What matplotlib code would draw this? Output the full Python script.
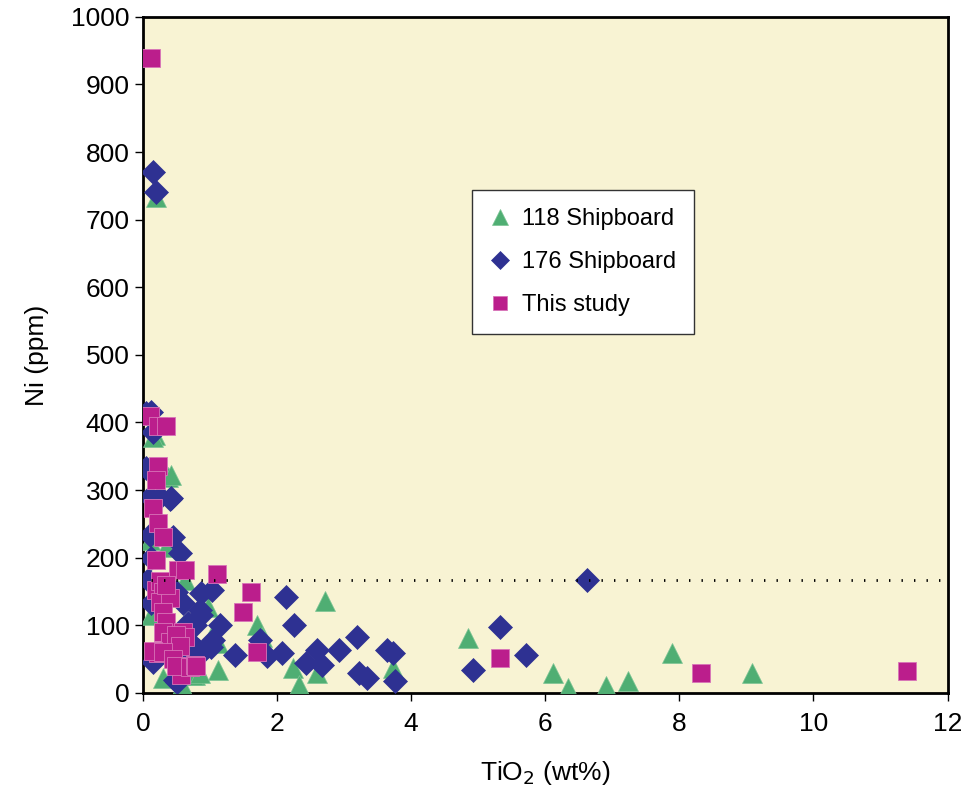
import numpy as np
import matplotlib
matplotlib.use('Agg')
import matplotlib.pyplot as plt

plt.rcParams['font.family'] = ['Liberation Sans', 'DejaVu Sans']

# 118 Shipboard (triangles)
tri_x = [0.19, 0.18, 0.15, 0.37, 0.42, 0.10, 0.34, 0.63, 0.52, 0.12, 0.97, 1.01,
         1.12, 1.12, 0.58, 0.78, 0.30, 0.75, 0.85, 1.70, 1.77, 2.71, 2.24, 2.33,
         2.59, 3.73, 4.85, 6.11, 6.34, 6.90, 7.24, 7.89, 9.08]
tri_y = [734, 382, 379, 320, 322, 226, 216, 167, 152, 115, 127, 83,
         74, 34, 12, 27, 22, 27, 30, 100, 83, 136, 37, 12,
         30, 37, 81, 30, 7, 10, 18, 59, 30]

# 176 Shipboard (diamonds)
dia_x = [0.15, 0.19, 0.12, 0.05, 0.15, 0.05, 0.10, 0.25, 0.42, 0.40, 0.45, 0.10,
         0.55, 0.12, 0.07, 0.49, 0.12, 0.60, 0.87, 0.67, 1.03, 1.01, 0.85, 1.15,
         0.78, 0.87, 1.04, 0.75, 0.82, 0.88, 0.64, 1.37, 0.15, 0.48, 0.51, 1.74,
         1.85, 2.14, 2.26, 2.07, 2.44, 2.59, 2.67, 2.92, 3.19, 3.23, 3.34, 3.64,
         3.73, 3.76, 4.92, 5.33, 5.71, 6.63]
dia_y = [771, 741, 416, 414, 386, 333, 290, 290, 288, 287, 231, 234,
         207, 200, 167, 150, 133, 133, 148, 103, 152, 68, 123, 100,
         100, 115, 78, 71, 63, 61, 61, 56, 46, 19, 16, 78,
         55, 142, 100, 59, 44, 63, 41, 63, 83, 30, 22, 63,
         59, 18, 34, 97, 56, 167]

# This study (squares)
sq_x = [0.12, 0.11, 0.22, 0.35, 0.22, 0.19, 0.15, 0.22, 0.30, 0.19, 0.52, 0.63,
        1.10, 0.19, 0.25, 0.30, 0.25, 0.40, 0.35, 0.30, 0.35, 0.30, 0.40, 0.60,
        0.63, 0.50, 0.55, 0.22, 0.15, 0.30, 0.45, 0.57, 0.50, 0.70, 0.78, 0.80,
        1.62, 1.49, 1.70, 5.33, 8.33, 11.40]
sq_y = [939, 410, 395, 395, 335, 315, 273, 251, 231, 196, 182, 182,
        176, 152, 165, 150, 135, 140, 160, 120, 105, 90, 75, 90,
        83, 85, 70, 59, 62, 60, 50, 27, 40, 38, 41, 40,
        149, 120, 61, 52, 30, 33]

threshold = 167

fig = plt.figure(figsize=(9.65, 8.02), dpi=100)
ax = fig.add_axes([0.148, 0.136, 0.834, 0.843])
ax.set_facecolor('#F8F3D3')

ax.plot(tri_x, tri_y, '^', color='#4FAE73', ms=15, mec='#7CC494', mew=0.5,
        ls='none', label='118 Shipboard', zorder=3)
ax.plot(dia_x, dia_y, 'D', color='#2E3192', ms=12, mec='#2E3192', mew=0.5,
        ls='none', label='176 Shipboard', zorder=4)
ax.plot(sq_x, sq_y, 's', color='#BB1E8C', ms=13, mec='#D874B8', mew=0.6,
        ls='none', label='This study', zorder=5)

# dotted reference line, drawn over the markers
ax.plot([0.12, 12], [threshold, threshold], color='black', lw=2,
        ls=(0, (0.5, 4)), zorder=6)

ax.set_xlim(0, 12)
ax.set_ylim(0, 1000)
ax.set_xticks(np.arange(0, 13, 2))
ax.set_yticks(np.arange(0, 1001, 100))
ax.tick_params(axis='both', labelsize=19, direction='out', length=6, width=1)
ax.tick_params(axis='x', pad=8)
for s in ax.spines.values():
    s.set_linewidth(2)

ax.set_xlabel('TiO$_2$ (wt%)', fontsize=19, labelpad=16)
ax.set_ylabel('Ni (ppm)', fontsize=19, labelpad=16)

leg = ax.legend(loc='upper left', bbox_to_anchor=(0.394, 0.761), fontsize=17,
                frameon=True, fancybox=False, edgecolor='#333333',
                facecolor='white', framealpha=1, borderpad=0.75,
                labelspacing=0.9, handletextpad=0.5, markerscale=0.8,
                handlelength=0.9)
leg.get_frame().set_linewidth(1)

fig.savefig('out.png', dpi=100)
